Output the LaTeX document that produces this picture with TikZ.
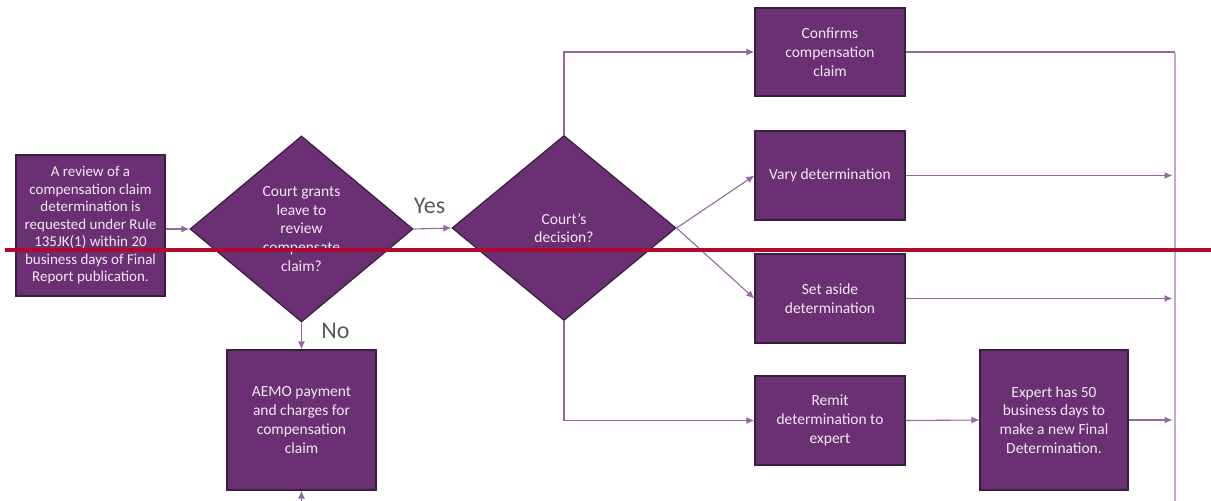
\documentclass[tikz,border=0pt]{standalone}
\usepackage{fontspec}
\setmainfont{Carlito}
\usetikzlibrary{shapes.geometric,arrows.meta}
\definecolor{boxfill}{HTML}{6B2F74}
\definecolor{boxline}{HTML}{3A1E40}
\definecolor{connc}{HTML}{9566A2}
\definecolor{connlight}{HTML}{C6A8CE}
\definecolor{txt}{HTML}{F2E8F2}
\definecolor{lbl}{HTML}{595959}
\definecolor{redline}{HTML}{B3082D}
\begin{document}
\begin{tikzpicture}[x=1pt,y=-1pt,
  stepbox/.style={rectangle, draw=boxline, fill=boxfill, line width=1.2pt, text=txt,
    align=center, font=\fontsize{15.5}{18.7}\selectfont, inner sep=0pt},
  decision/.style={diamond, draw=boxline, fill=boxfill, line width=1.2pt, text=txt,
    align=center, font=\fontsize{15.5}{18.8}\selectfont, inner sep=0pt},
  conn/.style={draw=connc, line width=1.1pt, -{Latex[length=8pt,width=7pt]}},
  plain/.style={draw=connc, line width=1.1pt},
  bus/.style={draw=connlight, line width=1.4pt},
  lab/.style={text=lbl, font=\fontsize{24}{27}\selectfont, inner sep=0pt},
]
\useasboundingbox (0,0) rectangle (1211,501);

% nodes
\node[stepbox, minimum width=149pt, minimum height=141pt, font=\fontsize{15}{17.5}\selectfont] (A) at (90.5,225.5)
  {A review of a\\compensation claim\\determination is\\requested under Rule\\135JK(1) within 20\\business days of Final\\Report publication.};
\node[decision, minimum width=223pt, minimum height=186pt] (D1) at (301.5,229)
  {Court grants\\leave to\\review\\compensate\\claim?};
\node[decision, minimum width=224pt, minimum height=185pt] (D2) at (564,228)
  {Court’s\\decision?};
\node[stepbox, minimum width=150pt, minimum height=88pt] (C) at (830,52)
  {Confirms\\compensation\\claim};
\node[stepbox, minimum width=150pt, minimum height=89pt] (V) at (830,175.5)
  {Vary determination};
\node[stepbox, minimum width=150pt, minimum height=89pt] (S) at (830,298.5)
  {Set aside\\determination};
\node[stepbox, minimum width=150pt, minimum height=89pt] (R) at (830,420.5)
  {Remit\\determination to\\expert};
\node[stepbox, minimum width=148pt, minimum height=140pt] (E) at (1054,420)
  {Expert has 50\\business days to\\make a new Final\\Determination.};
\node[stepbox, minimum width=149pt, minimum height=140pt] (M) at (301.5,420)
  {AEMO payment\\and charges for\\compensation\\claim};

\coordinate (busTop) at (1175,53);
\coordinate (busBot) at (1175,501);
\coordinate (mIn) at (301.5,501);

% connectors
\draw[conn] (A.east |- D1.west) -- (D1.west);
\draw[conn] (D1.east) -- (D2.west);
\node[lab] (yes) at (429.5,206) {Yes};
\draw[conn] (D1.south) -- (M.north);
\node[lab] (no) at (335.5,331) {No};
\draw[conn] (D2.north) |- (C.west);
\draw[conn] (D2.east) -- (V.west);
\draw[conn] (D2.east) -- (S.west);
\draw[conn] (D2.south) |- (R.west);
\draw[conn] (R.east) -- (E.west);
\draw[bus] (busTop) -- (busBot);
\draw[plain] (C.east) -- (C.east -| busTop);
\draw[conn, shorten >=2.5pt] (V.east) -- (V.east -| busTop);
\draw[conn, shorten >=2.5pt] (S.east) -- (S.east -| busTop);
\draw[conn, shorten >=2.5pt] (E.east) -- (E.east -| busTop);
\draw[conn] (mIn) -- (M.south);

% red line
\coordinate (rl) at (5,250);
\coordinate (rr) at (1211,250);
\draw[redline, line width=4pt] (rl) -- (rr);
\end{tikzpicture}
\end{document}
